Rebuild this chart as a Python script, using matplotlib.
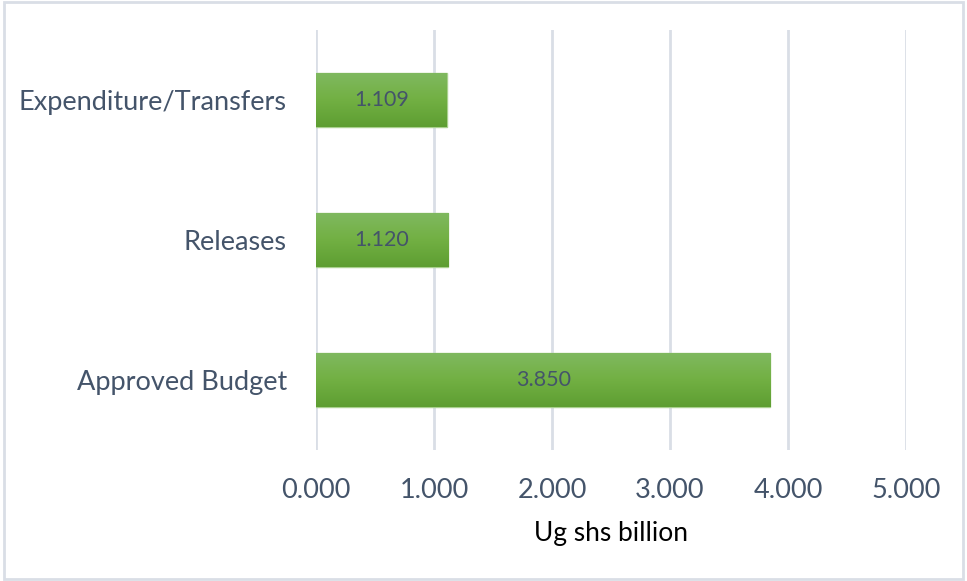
import matplotlib.pyplot as plt
import numpy as np
from matplotlib.patches import Rectangle
from matplotlib.colors import LinearSegmentedColormap

# datos del grafico
categorias = ["Approved Budget", "Releases", "Expenditure/Transfers"]
valores = [3.850, 1.120, 1.109]
ticks_x = [0, 1, 2, 3, 4, 5]
etiqueta_x = "Ug shs billion"

COLOR_TEXTO = "#44546A"
plt.rcParams['font.family'] = ['Lato', 'DejaVu Sans']

fig = plt.figure(figsize=(9.67, 5.81), dpi=100)
ax = fig.add_axes([316/967, 1 - 450/581, 590/967, 420/581])

posiciones = np.arange(len(categorias))
barras = ax.barh(posiciones, valores, height=0.39, color="#70AD47",
                 edgecolor="#A9D08E", linewidth=1, zorder=3)

# degradado verde como en Excel
grad = np.linspace(0, 1, 100).reshape(-1, 1)
cmap = LinearSegmentedColormap.from_list("verde", ["#5E9E32", "#72B043", "#80B960"])
for b in barras:
    x0, y0 = b.get_x(), b.get_y()
    w, h = b.get_width(), b.get_height()
    im = ax.imshow(grad, cmap=cmap, aspect='auto', extent=[x0, x0 + w, y0, y0 + h],
                   origin='lower', zorder=3.5)
    im.set_clip_path(b)

for p, v in zip(posiciones, valores):
    ax.text(v / 2, p, f"{v:.3f}", ha='center', va='center', fontsize=15.5,
            color=COLOR_TEXTO, zorder=5)

ax.set_xlim(0, 5)
ax.set_ylim(-0.5, len(categorias) - 0.5)
ax.set_xticks(ticks_x)
ax.set_xticklabels([f"{t:.3f}" for t in ticks_x], fontsize=19.5, color=COLOR_TEXTO)
ax.set_yticks(posiciones)
ax.set_yticklabels(categorias, fontsize=19.5, color=COLOR_TEXTO)
ax.tick_params(length=0, pad=21)
ax.tick_params(axis='x', pad=20)
ax.xaxis.grid(True, color="#D9DEE6", linewidth=2, zorder=0)
ax.set_axisbelow(True)
for s in ax.spines.values():
    s.set_visible(False)
ax.set_xlabel(etiqueta_x, fontsize=19, color="black", labelpad=13)

# borde del area del grafico
fig.patches.append(Rectangle((0.004, 0.004), 0.992, 0.992, transform=fig.transFigure,
                             fill=False, edgecolor="#D9DEE6", linewidth=2))

fig.savefig("out.png", dpi=100)
